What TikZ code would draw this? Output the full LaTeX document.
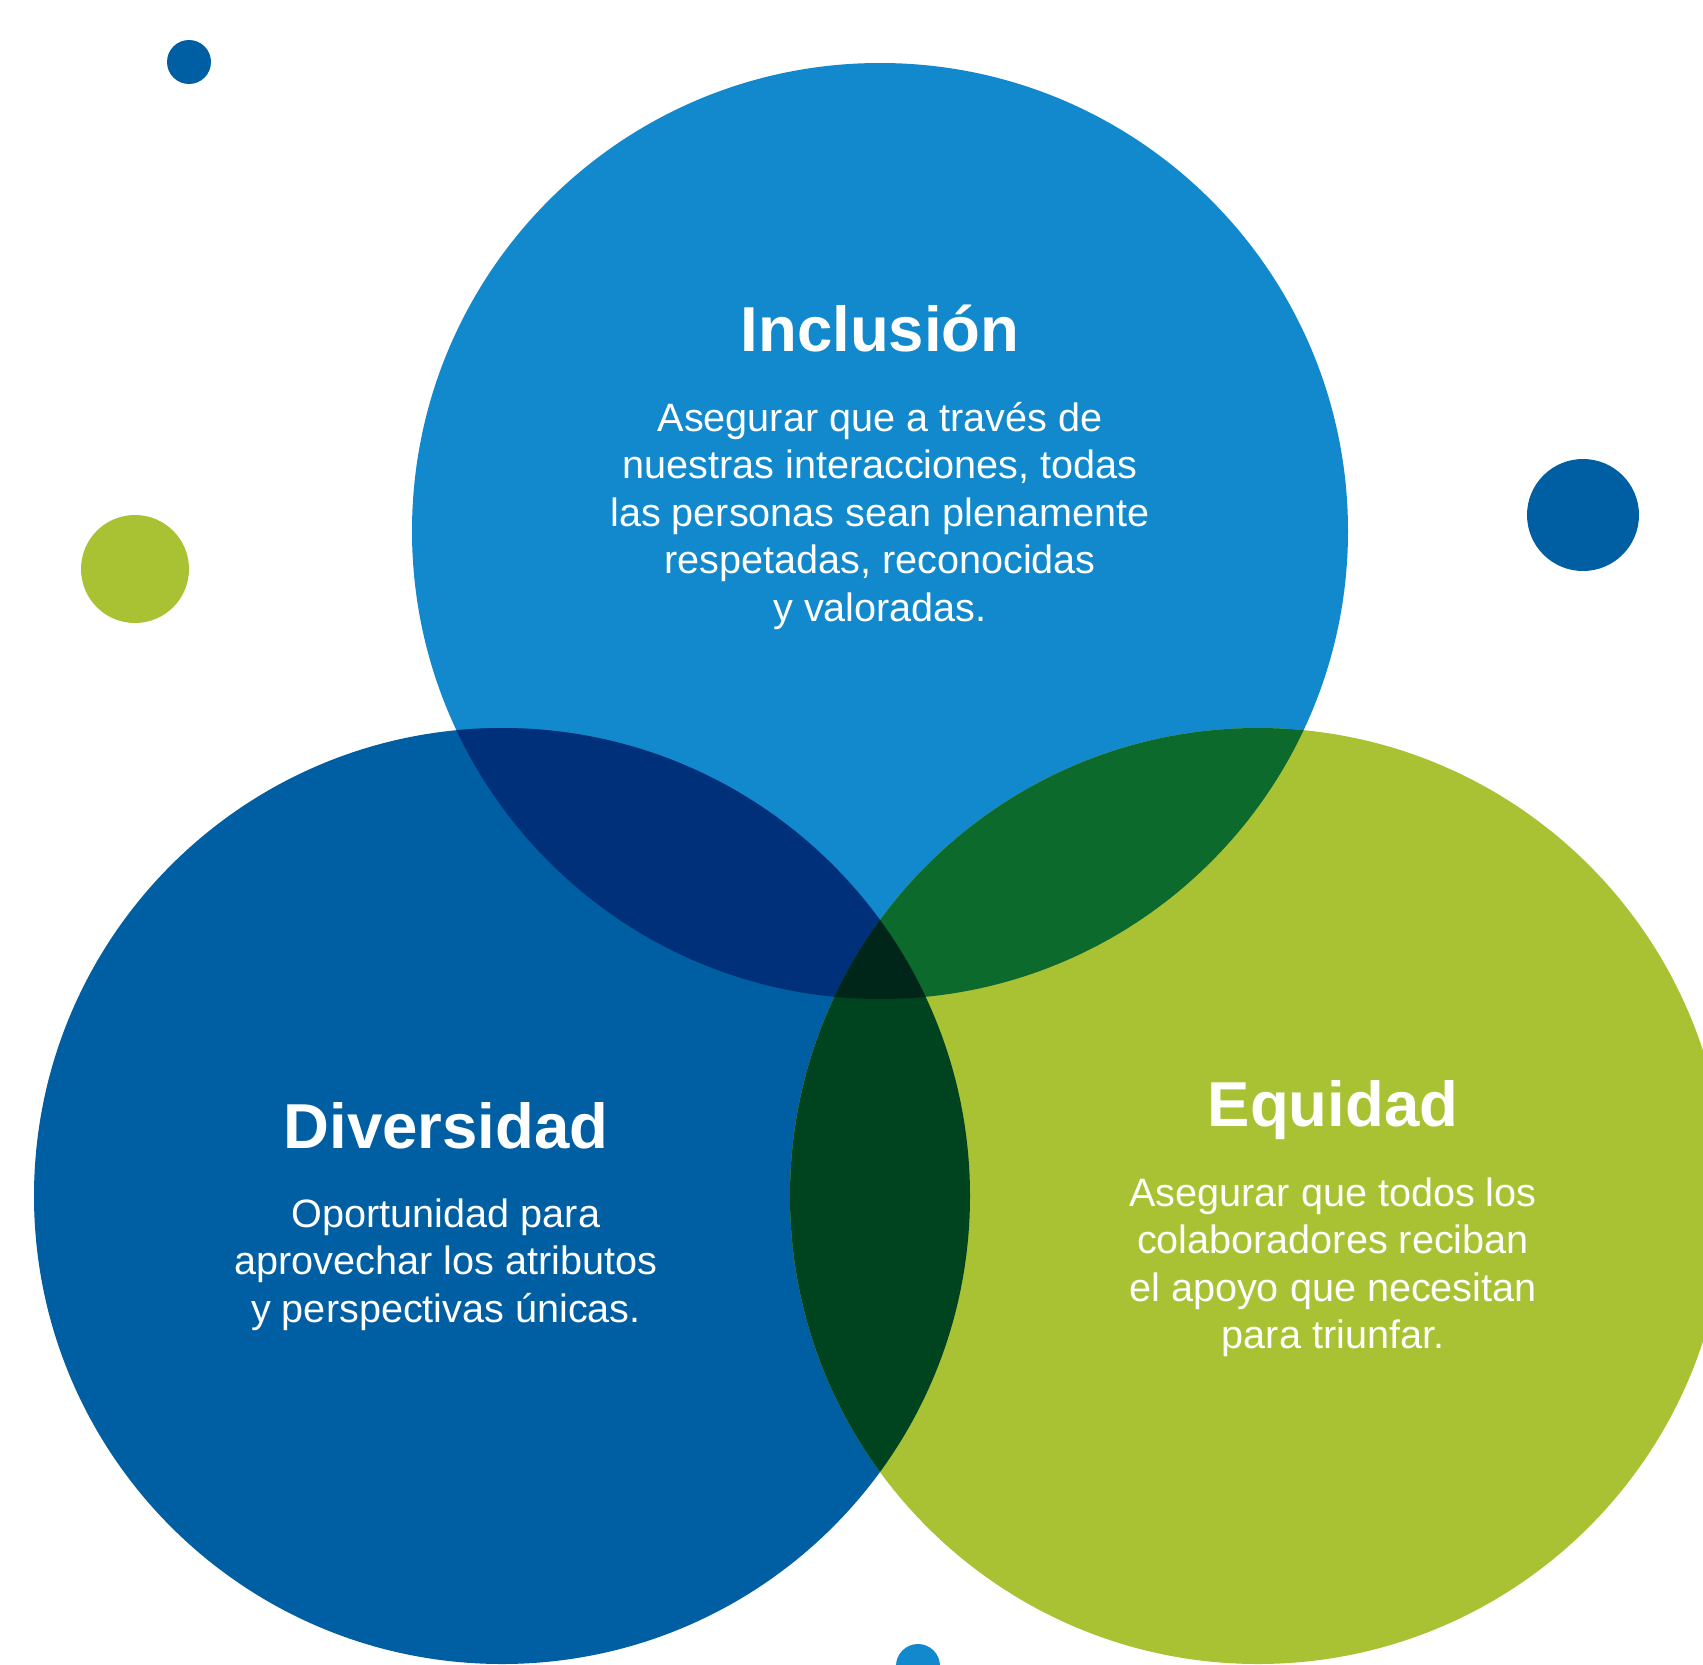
\documentclass[tikz,border=0pt]{standalone}
\usepackage{fontspec}
\setmainfont{Liberation Sans}

\definecolor{inclblue}{HTML}{1289CC}
\definecolor{divblue}{HTML}{005EA2}
\definecolor{eqgreen}{HTML}{A8C233}
\definecolor{incldiv}{HTML}{00307A}
\definecolor{incleq}{HTML}{0D6A2D}
\definecolor{diveq}{HTML}{00431F}
\definecolor{allthree}{HTML}{00261A}

\tikzset{
  bigcircle/.style={circle, minimum size=936pt, inner sep=0pt},
  spot/.style={circle, inner sep=0pt},
  ventitle/.style={text=white, anchor=base, inner sep=0pt, font=\fontsize{63.5}{76}\selectfont\bfseries},
  venbody/.style={text=white, anchor=north, inner sep=0pt, align=center, font=\fontsize{39.6}{47.5}\selectfont}
}

\begin{document}
\begin{tikzpicture}[x=1pt, y=-1pt]
    \useasboundingbox (0, 0) rectangle (1703, 1665);
    \fill[white] (0, 0) rectangle (1703, 1665);
    \clip (0, 0) rectangle (1703, 1665);

    % los tres circulos grandes
    \node[bigcircle, fill=inclblue] (incl) at (880, 531) {};
    \node[bigcircle, fill=divblue] (div) at (502, 1196) {};
    \node[bigcircle, fill=eqgreen] (eq) at (1258, 1196) {};

    % intersecciones
    \begin{scope}
        \clip (incl.center) circle[radius=468pt];
        \fill[incldiv] (div.center) circle[radius=468pt];
        \fill[incleq] (eq.center) circle[radius=468pt];
    \end{scope}
    \begin{scope}
        \clip (div.center) circle[radius=468pt];
        \fill[diveq] (eq.center) circle[radius=468pt];
    \end{scope}
    \begin{scope}
        \clip (incl.center) circle[radius=468pt];
        \clip (div.center) circle[radius=468pt];
        \fill[allthree] (eq.center) circle[radius=468pt];
    \end{scope}

    % puntos decorativos
    \node[spot, fill=divblue, minimum size=44pt] (spotA) at (189, 62) {};
    \node[spot, fill=eqgreen, minimum size=108pt] (spotB) at (135, 569) {};
    \node[spot, fill=divblue, minimum size=112pt] (spotC) at (1583, 515) {};
    \node[spot, fill=inclblue, minimum size=44pt] (spotD) at (918, 1666) {};

    % textos
    \node[ventitle] (incltitle) at (880, 351) {Inclusión};
    \node[venbody] (inclbody) at (880, 398) {\strut Asegurar que a través de\\ nuestras interacciones, todas\\ las personas sean plenamente\\ respetadas, reconocidas\\ y valoradas.};

    \node[ventitle] (divtitle) at (446, 1148) {Diversidad};
    \node[venbody] (divbody) at (446, 1194) {\strut Oportunidad para\\ aprovechar los atributos\\ y perspectivas únicas.};

    \node[ventitle] (eqtitle) at (1333, 1126) {Equidad};
    \node[venbody] (eqbody) at (1333, 1173) {\strut Asegurar que todos los\\ colaboradores reciban\\ el apoyo que necesitan\\ para triunfar.};

\end{tikzpicture}
\end{document}
